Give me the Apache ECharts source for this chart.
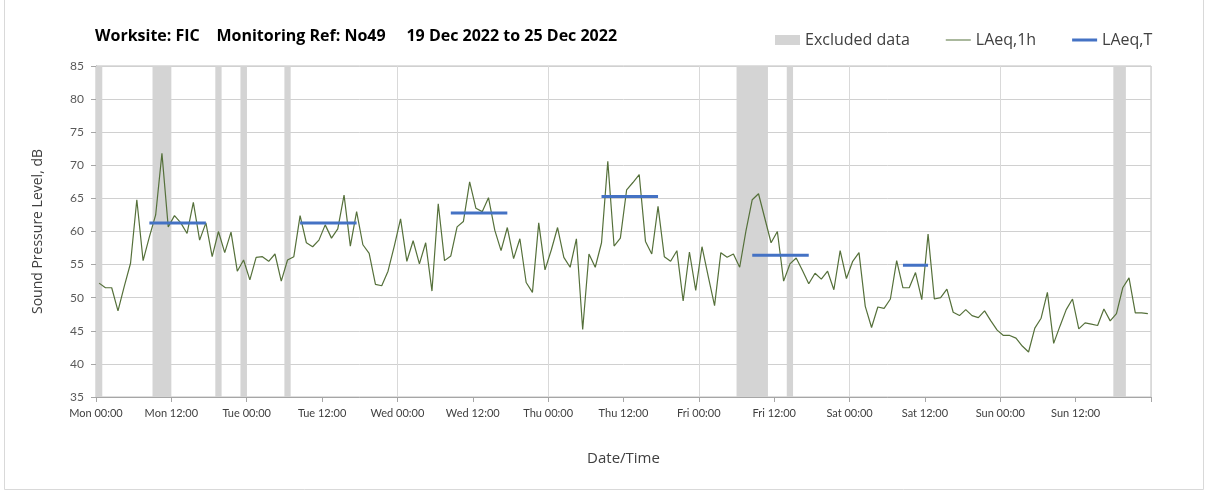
<!DOCTYPE html>
<html>
<head>
<meta charset="utf-8">
<script src="https://cdn.jsdelivr.net/npm/echarts@6/dist/echarts.min.js"></script>
<style>
  html, body { margin: 0; padding: 0; background: #ffffff; }
  #chart { width: 1208px; height: 492px; }
</style>
</head>
<body>
<div id="chart"></div>
<script>
// Tick labels every 12 hours across the week (Mon 00:00 .. Sun 12:00)
const tickLabels = [
  'Mon 00:00', 'Mon 12:00', 'Tue 00:00', 'Tue 12:00', 'Wed 00:00', 'Wed 12:00',
  'Thu 00:00', 'Thu 12:00', 'Fri 00:00', 'Fri 12:00', 'Sat 00:00', 'Sat 12:00',
  'Sun 00:00', 'Sun 12:00'
];

// Hourly LAeq,1h levels (dB), hour 0 = Mon 00:00-01:00
const laeq1h = [
  52.2, 51.5, 51.5, 48.0, 51.7, 55.2, 64.8, 55.6, 59.2, 62.5, 71.8, 60.7,
  62.4, 61.3, 59.7, 64.4, 58.7, 61.3, 56.2, 60.0, 56.8, 59.9, 54.0, 55.7,
  52.7, 56.1, 56.2, 55.5, 56.6, 52.5, 55.7, 56.2, 62.4, 58.3, 57.7, 58.7,
  61.0, 59.0, 60.4, 65.5, 57.8, 63.0, 58.0, 56.7, 52.0, 51.8, 54.0, 57.8,
  61.9, 55.5, 58.6, 55.1, 58.3, 51.0, 64.2, 55.6, 56.3, 60.7, 61.5, 67.5,
  63.5, 63.0, 65.1, 60.2, 57.1, 60.6, 55.9, 58.9, 52.3, 50.8, 61.3, 54.2,
  57.2, 60.6, 56.1, 54.6, 58.9, 45.2, 56.6, 54.6, 58.3, 70.6, 57.8, 59.0,
  66.3, 67.4, 68.6, 58.5, 56.6, 63.8, 56.2, 55.5, 57.1, 49.5, 56.9, 51.1,
  57.7, 53.2, 48.8, 56.8, 56.1, 56.6, 54.6, 60.1, 64.8, 65.7, 62.0, 58.3,
  60.0, 52.5, 55.1, 56.0, 54.1, 52.1, 53.7, 52.8, 54.0, 51.2, 57.1, 52.9,
  55.5, 56.8, 48.7, 45.5, 48.6, 48.4, 49.8, 55.6, 51.5, 51.5, 53.8, 49.7,
  59.6, 49.8, 50.0, 51.3, 47.8, 47.3, 48.2, 47.3, 47.0, 48.0, 46.5, 45.1,
  44.3, 44.3, 43.9, 42.7, 41.8, 45.4, 46.9, 50.8, 43.1, 45.7, 48.2, 49.8,
  45.3, 46.2, 46.0, 45.8, 48.3, 46.5, 47.6, 51.5, 53.0, 47.7, 47.7, 47.6
];

// LAeq,T periods: first and last hour index covered, and the period level (dB)
const laeqTFirstHour = [8, 32, 56, 80, 104, 128];
const laeqTLastHour  = [17, 41, 65, 89, 113, 132];
const laeqTValue     = [61.3, 61.3, 62.8, 65.3, 56.4, 54.9];

// Excluded hours: start hour and end hour of each excluded block
const excludedStart = [0, 9, 19, 23, 30, 102, 110, 162];
const excludedEnd   = [1, 12, 20, 24, 31, 107, 111, 164];

const FONT = 'Lato, "Open Sans", sans-serif';
const FONT_WIDE = '"Open Sans", Lato, sans-serif';

// Legend swatches: a 25x10 box holding a thin (1h) or thick (T) stroke
const ICON_THIN  = 'path://M0,0 M0,4.5 L25,4.5 L25,5.5 L0,5.5 Z M25,10';
const ICON_THICK = 'path://M0,0 M0,3.5 L25,3.5 L25,6.5 L0,6.5 Z M25,10';

// Each hourly value sits in the middle of its hour
const hourlyPoints = laeq1h.map((v, i) => [i + 0.5, v]);

const laeqTSeries = laeqTValue.map((v, k) => ({
  name: 'LAeq,T',
  type: 'line',
  xAxisIndex: 0,
  yAxisIndex: 0,
  symbol: 'none',
  z: 4,
  color: '#4472c4',
  lineStyle: { color: '#4472c4', width: 3 },
  data: [[laeqTFirstHour[k] + 0.5, v], [laeqTLastHour[k] + 0.5, v]]
}));

const excludedAreas = excludedStart.map((s, k) => [{ xAxis: s }, { xAxis: excludedEnd[k] }]);

const chart = echarts.init(document.getElementById('chart'), null, { renderer: 'canvas' });

chart.setOption({
  animation: false,
  backgroundColor: '#ffffff',
  graphic: [
    {
      // chart-area frame
      type: 'rect',
      silent: true,
      shape: { x: 4.5, y: -2, width: 1199, height: 491.5 },
      style: { fill: 'none', stroke: '#d9d9d9', lineWidth: 1 }
    }
  ],
  title: {
    text: 'Worksite: FIC    Monitoring Ref: No49     19 Dec 2022 to 25 Dec 2022',
    left: 95,
    top: 28,
    padding: 0,
    textStyle: { fontFamily: FONT_WIDE, fontSize: 16, fontWeight: 'bold', color: '#000000' }
  },
  legend: {
    left: 775,
    top: 32,
    padding: 0,
    itemWidth: 25,
    itemHeight: 10,
    itemGap: 36,
    textStyle: { fontFamily: FONT_WIDE, fontSize: 16, color: '#404040' },
    data: [
      { name: 'Excluded data', icon: 'rect', itemStyle: { color: '#d4d4d4' } },
      { name: 'LAeq,1h', icon: ICON_THIN },
      { name: 'LAeq,T', icon: ICON_THICK }
    ]
  },
  grid: {
    left: 96,
    right: 57,
    top: 66,
    bottom: 95,
    show: true,
    borderColor: '#bfbfbf',
    borderWidth: 1,
    backgroundColor: 'transparent'
  },
  xAxis: [
    {
      type: 'value',
      min: 0,
      max: 168,
      interval: 12,
      name: 'Date/Time',
      nameLocation: 'middle',
      nameGap: 54,
      nameTextStyle: { fontFamily: FONT_WIDE, fontSize: 15, color: '#404040' },
      axisLine: { show: true, lineStyle: { color: '#a6a6a6' } },
      axisTick: { show: true, length: 5, lineStyle: { color: '#a6a6a6' } },
      splitLine: { show: false },
      axisLabel: {
        fontFamily: FONT,
        fontSize: 11,
        color: '#404040',
        margin: 11,
        formatter: (v) => tickLabels[Math.round(v / 12)] || ''
      }
    },
    {
      // daily vertical gridlines
      type: 'value',
      min: 0,
      max: 168,
      interval: 24,
      position: 'bottom',
      axisLine: { show: false },
      axisTick: { show: false },
      axisLabel: { show: false },
      splitLine: { show: true, lineStyle: { color: '#d9d9d9', width: 1 } }
    }
  ],
  yAxis: {
    type: 'value',
    min: 35,
    max: 85,
    interval: 5,
    name: 'Sound Pressure Level, dB',
    nameLocation: 'middle',
    nameGap: 51,
    nameTextStyle: { fontFamily: FONT_WIDE, fontSize: 14, color: '#404040' },
    axisLine: { show: true, lineStyle: { color: '#a6a6a6' } },
    axisTick: { show: true, length: 5, lineStyle: { color: '#a6a6a6' } },
    splitLine: { show: true, lineStyle: { color: '#d0d0d0', width: 1 } },
    axisLabel: { fontFamily: FONT, fontSize: 12, color: '#595959', margin: 12 }
  },
  series: [
    {
      name: 'Excluded data',
      type: 'line',
      xAxisIndex: 0,
      data: [],
      z: 1,
      color: '#d4d4d4',
      markArea: {
        silent: true,
        itemStyle: { color: '#d4d4d4', opacity: 1 },
        data: excludedAreas
      }
    },
    {
      name: 'LAeq,1h',
      type: 'line',
      xAxisIndex: 0,
      symbol: 'none',
      z: 3,
      color: '#55703a',
      lineStyle: { color: '#55703a', width: 1.2 },
      data: hourlyPoints
    },
    ...laeqTSeries
  ]
});
</script>
</body>
</html>
